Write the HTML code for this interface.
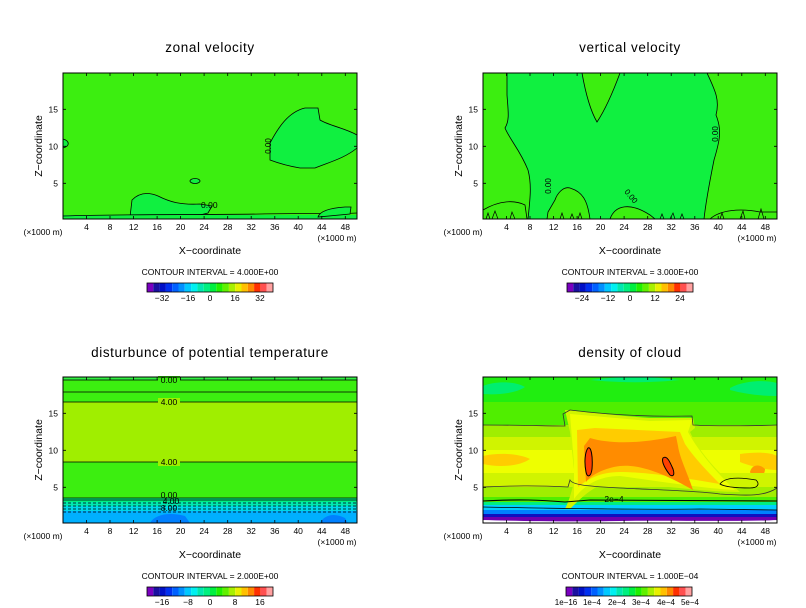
<!DOCTYPE html>
<html><head><meta charset="utf-8"><style>
body{margin:0;background:#fff;}
svg{display:block;font-family:"Liberation Sans",sans-serif;}
.t{font-size:13.5px;text-anchor:middle;letter-spacing:0.6px}
.k{font-size:8.5px;text-anchor:middle}
.a{font-size:10.5px;text-anchor:middle}
.ci{font-size:8.5px;text-anchor:middle}
</style></head><body>
<svg width="806" height="608" viewBox="0 0 806 608" xmlns="http://www.w3.org/2000/svg">
<defs>
<g id="xt">
<g stroke="#000" stroke-width="0.8">
<path d="M86.5,219v-3M110,219v-3M133.6,219v-3M157.1,219v-3M180.6,219v-3M204.1,219v-3M227.7,219v-3M251.2,219v-3M274.8,219v-3M298.2,219v-3M321.8,219v-3M345.3,219v-3"/>
<path d="M86.5,73v3M110,73v3M133.6,73v3M157.1,73v3M180.6,73v3M204.1,73v3M227.7,73v3M251.2,73v3M274.8,73v3M298.2,73v3M321.8,73v3M345.3,73v3"/>
<path d="M63,109.3h3M63,146.3h3M63,183.3h3M357,109.3h-3M357,146.3h-3M357,183.3h-3"/>
</g>
<g class="k">
<text x="86.5" y="230">4</text><text x="110" y="230">8</text><text x="133.6" y="230">12</text><text x="157.1" y="230">16</text><text x="180.6" y="230">20</text><text x="204.1" y="230">24</text><text x="227.7" y="230">28</text><text x="251.2" y="230">32</text><text x="274.8" y="230">36</text><text x="298.2" y="230">40</text><text x="321.8" y="230">44</text><text x="345.3" y="230">48</text>
</g>
<g class="k">
<text x="58" y="112.5" style="text-anchor:end">15</text><text x="58" y="149.5" style="text-anchor:end">10</text><text x="58" y="186.5" style="text-anchor:end">5</text>
</g>
<text class="k" x="43" y="235">(×1000 m)</text>
<text class="k" x="337" y="241">(×1000 m)</text>
<text class="a" x="210" y="254">X−coordinate</text>
<text class="a" transform="translate(42,146) rotate(-90)">Z−coordinate</text>
</g>
<g id="cb">
<rect x="0" y="0" width="6.3" height="9" fill="#7a00c0"/>
<rect x="6.3" y="0" width="6.3" height="9" fill="#1a10a0"/>
<rect x="12.6" y="0" width="6.3" height="9" fill="#0010c8"/>
<rect x="18.9" y="0" width="6.3" height="9" fill="#0030f0"/>
<rect x="25.2" y="0" width="6.3" height="9" fill="#0060ff"/>
<rect x="31.5" y="0" width="6.3" height="9" fill="#0090ff"/>
<rect x="37.8" y="0" width="6.3" height="9" fill="#00c8ff"/>
<rect x="44.1" y="0" width="6.3" height="9" fill="#00f0f0"/>
<rect x="50.4" y="0" width="6.3" height="9" fill="#00e8b0"/>
<rect x="56.7" y="0" width="6.3" height="9" fill="#00f080"/>
<rect x="63" y="0" width="6.3" height="9" fill="#00f040"/>
<rect x="69.3" y="0" width="6.3" height="9" fill="#20f000"/>
<rect x="75.6" y="0" width="6.3" height="9" fill="#60f000"/>
<rect x="81.9" y="0" width="6.3" height="9" fill="#a8f000"/>
<rect x="88.2" y="0" width="6.3" height="9" fill="#e8f000"/>
<rect x="94.5" y="0" width="6.3" height="9" fill="#ffc000"/>
<rect x="100.8" y="0" width="6.3" height="9" fill="#ff8800"/>
<rect x="107.1" y="0" width="6.3" height="9" fill="#ff3000"/>
<rect x="113.4" y="0" width="6.3" height="9" fill="#ff5050"/>
<rect x="119.7" y="0" width="6.3" height="9" fill="#ffa0a0"/>
<rect x="0" y="0" width="126" height="9" fill="none" stroke="#000" stroke-width="0.8"/>
</g>
</defs>

<text class="t" x="210" y="52">zonal velocity</text>
<text class="t" x="630" y="52">vertical velocity</text>
<text class="t" x="210" y="357">disturbunce of potential temperature</text>
<text class="t" x="630" y="357">density of cloud</text>

<!-- Plot 1 -->
<rect x="63" y="73" width="294" height="146" fill="#3cee10"/>
<path d="M270,143 C278,128 288,112 305,108 L318,108 L320,120 C330,126 345,128 357,135 L357,148 C345,158 330,162 315,168 L300,168 C288,166 278,163 270,160 Z" fill="#10f040" stroke="#000" stroke-width="0.8"/>
<path d="M130,217 L132,200 C138,194 146,191 158,196 C170,202 180,205 200,204 L212,206 L208,213 L200,215 Z" fill="#10f040" stroke="#000" stroke-width="0.8"/>
<path d="M63,215 L357,215 L357,219 L63,219Z" fill="#10f040"/>
<path d="M63,216 C120,214 200,215 260,214 C300,213 340,214 357,213" fill="none" stroke="#000" stroke-width="0.8"/>
<path d="M318,217 C320,211 330,208 345,207 L351,207 L350,214 Z" fill="#10f040" stroke="#000" stroke-width="0.8"/>
<ellipse cx="195" cy="181" rx="5" ry="2.5" fill="#10f040" stroke="#000" stroke-width="0.8"/>
<path d="M63,139 C70,141 70,146 63,148" fill="#10f040" stroke="#000" stroke-width="0.8"/>
<text x="201" y="208" font-size="8.5">0.00</text>
<text font-size="8" transform="translate(271,146) rotate(-90)" text-anchor="middle">0.00</text>
<rect x="63" y="73" width="294" height="146" fill="none" stroke="#000" stroke-width="1"/>
<use href="#xt"/>
<text class="ci" x="210" y="275">CONTOUR INTERVAL = 4.000E+00</text>
<use href="#cb" transform="translate(147,283)"/>
<g class="k"><text x="162" y="301">−32</text><text x="188" y="301">−16</text><text x="210" y="301">0</text><text x="235" y="301">16</text><text x="260" y="301">32</text></g>

<!-- Plot 2 -->
<g transform="translate(420,0)">
<rect x="63" y="73" width="294" height="146" fill="#3cee10"/>
<path d="M87,73 L162,73 C165,90 170,110 177,122 C185,110 193,92 200,73 L287,73 C295,90 300,100 296,115 C302,130 300,140 294,160 C290,180 286,200 284,219 L170,219 C168,205 165,195 155,190 L150,188 C143,186 137,194 135,200 L128,212 L127,219 L108,219 C110,200 112,185 108,170 C100,150 90,140 85,128 C90,120 88,110 87,95 Z" fill="#10f040" stroke="#000" stroke-width="0.8"/>
<path d="M63,219 L63,210 C80,200 95,200 105,205 L107,219Z" fill="#3cee10" stroke="#000" stroke-width="0.8"/>
<path d="M190,219 C195,205 210,202 230,215 L235,219Z" fill="#3cee10" stroke="#000" stroke-width="0.8"/>
<path d="M290,219 C300,210 320,208 340,212 L357,212 L357,219Z" fill="#3cee10" stroke="#000" stroke-width="0.8"/>
<path d="M66,219 l2,-6 2,6 M72,219 l3,-8 3,8 M90,219 l2,-7 3,7 M140,219 l2,-6 2,6 M150,219 l2,-5 2,5 M158,219 l2,-6 2,6 M240,219 l2,-5 2,5 M250,219 l3,-6 2,6 M260,219 l2,-5 2,5 M300,219 l2,-6 2,6 M320,219 l3,-8 2,8 M338,219 l3,-10 3,10" fill="none" stroke="#000" stroke-width="0.7"/>
<text font-size="8" transform="translate(131,186) rotate(-90)" text-anchor="middle">0.00</text>
<text font-size="8" transform="translate(209,198) rotate(50)" text-anchor="middle">0.00</text>
<text font-size="8" transform="translate(298,134) rotate(-90)" text-anchor="middle">0.00</text>
<rect x="63" y="73" width="294" height="146" fill="none" stroke="#000" stroke-width="1"/>
<use href="#xt"/>
<text class="ci" x="210" y="275">CONTOUR INTERVAL = 3.000E+00</text>
<use href="#cb" transform="translate(147,283)"/>
<g class="k"><text x="162" y="301">−24</text><text x="188" y="301">−12</text><text x="210" y="301">0</text><text x="235" y="301">12</text><text x="260" y="301">24</text></g>
</g>

<!-- Plot 3 -->
<g transform="translate(0,304)">
<rect x="63" y="73" width="294" height="146" fill="#3cee10"/>
<rect x="63" y="73" width="294" height="3" fill="#30f040"/>
<rect x="63" y="98" width="294" height="60" fill="#a0ee00"/>
<rect x="63" y="194" width="294" height="4" fill="#00f080"/>
<rect x="63" y="198" width="294" height="4" fill="#00e8b0"/>
<rect x="63" y="202" width="294" height="5" fill="#00d8e8"/>
<rect x="63" y="207" width="294" height="12" fill="#00b0ff"/>
<path d="M150,219 C155,210 170,208 185,212 L190,219Z M320,219 C325,210 335,209 345,214 L348,219Z" fill="#0080ff"/>
<g stroke="#000" stroke-width="0.8" fill="none">
<path d="M63,76H357M63,88H357M63,98H357M63,158H357M63,194H357M63,196H357"/>
<path d="M63,199H357M63,202H357M63,205H357M63,208H357" stroke-dasharray="3,2"/>
</g>
<g font-size="8.5" text-anchor="middle">
<rect x="158" y="72" width="22" height="7" fill="#3cee10"/><text x="169" y="79">0.00</text>
<rect x="158" y="94" width="22" height="8" fill="#a0ee00"/><text x="169" y="101">4.00</text>
<rect x="158" y="154" width="22" height="8" fill="#a0ee00"/><text x="169" y="161">4.00</text>
<text x="169" y="194">0.00</text><text x="171" y="200">4.00</text><text x="169" y="207">8.00</text>
</g>
<rect x="63" y="73" width="294" height="146" fill="none" stroke="#000" stroke-width="1"/>
<use href="#xt"/>
<text class="ci" x="210" y="275">CONTOUR INTERVAL = 2.000E+00</text>
<use href="#cb" transform="translate(147,283)"/>
<g class="k"><text x="162" y="301">−16</text><text x="188" y="301">−8</text><text x="210" y="301">0</text><text x="235" y="301">8</text><text x="260" y="301">16</text></g>
</g>

<!-- Plot 4 -->
<g transform="translate(420,304)">
<rect x="63" y="73" width="294" height="146" fill="#ffffff"/>
<rect x="63" y="73" width="294" height="25" fill="#20ee10"/>
<path d="M63,82 C75,77 95,77 105,83 C95,90 75,91 63,90Z M310,84 C325,76 345,76 357,79 L357,92 C340,92 325,90 310,86Z M170,76 C200,72 230,72 260,76 C230,79 200,79 170,76Z" fill="#00ee70"/>
<rect x="63" y="98" width="294" height="23" fill="#50ee00"/>
<rect x="63" y="121" width="294" height="12" fill="#a0ee00"/>
<rect x="63" y="133" width="294" height="13" fill="#d0f400"/>
<rect x="63" y="146" width="294" height="23" fill="#eeff00"/>
<path d="M63,152 C80,148 100,150 110,155 C100,162 80,164 63,160Z M320,150 C335,148 350,148 357,152 L357,166 C345,166 330,162 320,158Z" fill="#ffcc00"/>
<path d="M330,168 C332,160 340,160 345,165 C345,172 338,176 332,172Z" fill="#ff9900"/>
<rect x="63" y="169" width="294" height="14" fill="#d0f400"/>
<rect x="63" y="183" width="294" height="10" fill="#a0ee00"/>
<rect x="63" y="193" width="294" height="5" fill="#50ee00"/>
<rect x="63" y="198" width="294" height="3" fill="#00ee80"/>
<rect x="63" y="201" width="294" height="5" fill="#00d0ff"/>
<rect x="63" y="206" width="294" height="4" fill="#0080ff"/>
<rect x="63" y="210" width="294" height="3" fill="#1010c0"/>
<path d="M63,213 L357,213 L357,216 C320,218 260,216 200,217 C150,218 100,217 63,216Z" fill="#7000b0"/>
<!-- central cloud -->
<path d="M145,106 C170,108 200,112 230,114 L273,114 L275,124 L270,128 C280,150 300,170 320,188 C280,188 230,180 200,178 C180,176 165,190 150,205 L145,205 C150,195 152,185 155,175 L150,128 Z" fill="#d0f400"/>
<path d="M150,110 L230,117 L272,116 L268,128 C280,150 300,172 315,186 C280,184 230,176 200,172 C180,172 165,180 154,195 L154,160 Z" fill="#eeff00"/>
<path d="M157,126 L175,124 L260,128 L265,140 C275,155 290,170 300,180 C270,175 230,168 200,168 C180,168 168,175 158,183 Z" fill="#ffcc00"/>
<path d="M164,142 L170,134 C190,140 220,140 256,132 L258,142 C260,155 268,170 273,186 C245,170 220,160 200,162 C185,164 172,170 166,178 Z" fill="#ff8c00"/>
<path d="M168,144 C171,142 173,152 172,165 C171,173 167,174 166,168 C164,158 165,148 168,144Z M243,154 C247,151 250,158 253,165 C255,171 253,173 250,171 C246,166 241,158 243,154Z" fill="#ff4000" stroke="#000" stroke-width="1"/>
<g fill="none" stroke="#333" stroke-width="0.8">
<path d="M63,121 C100,121 130,122 145,122 L143,110 L150,106 C190,111 230,113 272,112 L273,121 C290,122 330,122 357,121"/>
<path d="M63,183 C90,182 110,181 148,183 L150,176 C152,180 160,182 200,184 C240,186 280,187 300,190 C330,192 345,192 357,184"/>
<path d="M63,197 C100,195 120,196 145,198 L170,196 C220,196 280,196 357,197" stroke="#000" stroke-width="1.1"/>
<path d="M63,203 C120,204 200,206 280,205 L357,206" stroke="#000"/>
<path d="M300,180 C305,173 320,173 336,176 C340,180 338,184 330,184 C315,184 305,183 300,180Z" stroke="#000"/>
</g>
<text x="194" y="198" font-size="8.5" text-anchor="middle">2e−4</text>
<rect x="63" y="73" width="294" height="146" fill="none" stroke="#000" stroke-width="1"/>
<use href="#xt"/>
<text class="ci" x="210" y="275">CONTOUR INTERVAL = 1.000E−04</text>
<use href="#cb" transform="translate(146,283)"/>
<g font-size="8" text-anchor="middle"><text x="146" y="301">1e−16</text><text x="172" y="301">1e−4</text><text x="197" y="301">2e−4</text><text x="221" y="301">3e−4</text><text x="246" y="301">4e−4</text><text x="270" y="301">5e−4</text></g>
</g>
</svg>
</body></html>
